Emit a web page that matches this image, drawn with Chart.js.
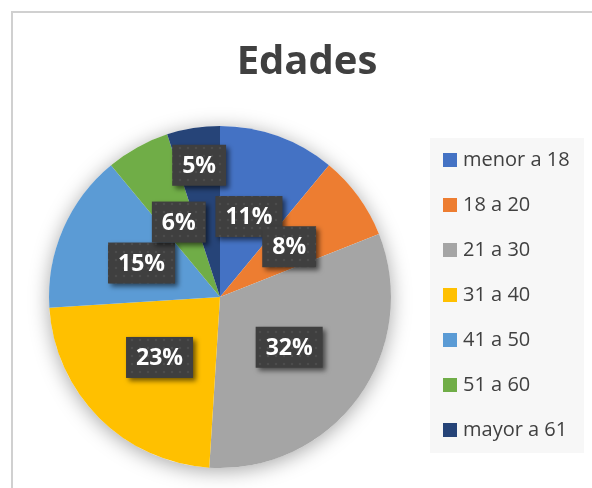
<!DOCTYPE html>
<html>
<head>
<meta charset="utf-8">
<script src="https://cdn.jsdelivr.net/npm/chart.js@4"></script>
<style>
  html, body { margin: 0; padding: 0; background: #fff; }
  #wrap { width: 592px; height: 488px; }
</style>
</head>
<body>
<div id="wrap"><canvas id="edadesChart" width="592" height="488"></canvas></div>
<script>
const title = 'Edades';
const labels = ['menor a 18', '18 a 20', '21 a 30', '31 a 40', '41 a 50', '51 a 60', 'mayor a 61'];
const values = [11, 8, 32, 23, 15, 6, 5];
const colors = ['#4472C4', '#ED7D31', '#A5A5A5', '#FFC000', '#5B9BD5', '#70AD47', '#264478'];

const FONT = '"Open Sans", "DejaVu Sans", sans-serif';

// small dotted texture for the label boxes
const tex = document.createElement('canvas');
tex.width = 8; tex.height = 8;
const tctx = tex.getContext('2d');
tctx.fillStyle = '#3f3f3f';
tctx.fillRect(0, 0, 8, 8);
tctx.fillStyle = 'rgba(255,255,255,0.07)';
tctx.beginPath();
tctx.arc(4, 4, 1.3, 0, Math.PI * 2);
tctx.fill();

const ctx = document.getElementById('edadesChart').getContext('2d');
const boxPattern = ctx.createPattern(tex, 'repeat');

const decorPlugin = {
  id: 'decor',
  beforeDraw(chart) {
    const c = chart.ctx;
    c.save();
    // frame
    c.strokeStyle = '#d0d0d0';
    c.lineWidth = 2;
    c.beginPath();
    c.moveTo(12, 488);
    c.lineTo(12, 12);
    c.lineTo(592, 12);
    c.stroke();
    // title, centred on the whole frame
    c.fillStyle = '#404040';
    c.font = 'bold 40px ' + FONT;
    c.textAlign = 'center';
    c.textBaseline = 'middle';
    c.fillText(title, 307, 63);
    c.restore();
  },
  beforeDatasetsDraw(chart) {
    // soft shadow under the pie
    const arc = chart.getDatasetMeta(0).data[0];
    if (!arc) return;
    const p = arc.getProps(['x', 'y', 'outerRadius'], true);
    const c = chart.ctx;
    c.save();
    c.shadowColor = 'rgba(0,0,0,0.35)';
    c.shadowBlur = 20;
    c.shadowOffsetY = 3;
    c.fillStyle = '#ffffff';
    c.beginPath();
    c.arc(p.x, p.y, p.outerRadius, 0, Math.PI * 2);
    c.fill();
    c.restore();
  },
  afterDraw(chart) {
    const c = chart.ctx;
    const meta = chart.getDatasetMeta(0);
    const ds = chart.data.datasets[0];
    const total = ds.data.reduce((a, b) => a + b, 0);

    // data labels (the last small slice is pushed outward like Excel does)
    const radial = [0.5, 0.5, 0.5, 0.5, 0.5, 0.5, 0.78];
    c.save();
    c.font = 'bold 23px ' + FONT;
    c.textAlign = 'center';
    c.textBaseline = 'middle';
    meta.data.forEach((arc, i) => {
      const p = arc.getProps(['x', 'y', 'startAngle', 'endAngle', 'outerRadius'], true);
      const mid = (p.startAngle + p.endAngle) / 2;
      const cx = p.x + Math.cos(mid) * p.outerRadius * radial[i];
      const cy = p.y + Math.sin(mid) * p.outerRadius * radial[i];
      const txt = Math.round(ds.data[i] / total * 100) + '%';
      const w = c.measureText(txt).width + 20;
      const h = 41;
      c.save();
      c.shadowColor = 'rgba(0,0,0,0.55)';
      c.shadowBlur = 5;
      c.shadowOffsetX = 3;
      c.shadowOffsetY = 3;
      c.fillStyle = boxPattern;
      c.fillRect(cx - w / 2, cy - h / 2, w, h);
      c.restore();
      c.fillStyle = '#ffffff';
      c.fillText(txt, cx, cy + 1);
    });
    c.restore();

    // legend panel
    c.save();
    c.fillStyle = '#f7f7f7';
    c.fillRect(430, 138, 154, 315);
    c.font = '20px ' + FONT;
    c.textAlign = 'left';
    c.textBaseline = 'middle';
    chart.data.labels.forEach((lab, i) => {
      const y = 160 + i * 45;
      c.fillStyle = ds.backgroundColor[i];
      c.fillRect(443, y - 7, 14, 14);
      c.fillStyle = '#404040';
      c.fillText(lab, 463, y);
    });
    c.restore();
  }
};

new Chart(ctx, {
  type: 'pie',
  data: {
    labels: labels,
    datasets: [{
      data: values,
      backgroundColor: colors,
      borderWidth: 0
    }]
  },
  options: {
    responsive: false,
    animation: false,
    layout: {
      padding: { left: 49, right: 201, top: 126, bottom: 20 }
    },
    plugins: {
      legend: { display: false },
      tooltip: { enabled: false },
      title: { display: false }
    }
  },
  plugins: [decorPlugin]
});
</script>
</body>
</html>
